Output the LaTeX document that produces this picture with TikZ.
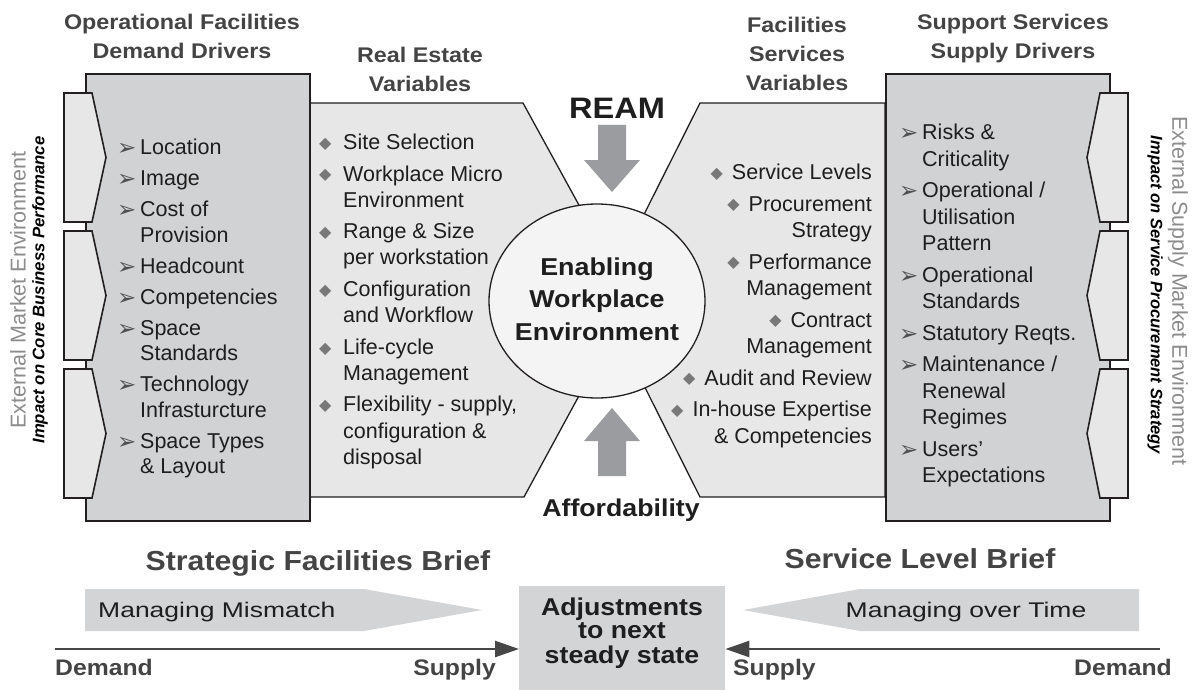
\documentclass[tikz,border=0pt]{standalone}
\usepackage{fontspec}
\setmainfont{Liberation Sans}
\newfontfamily\wf{Liberation Sans}[FakeStretch=1.1]
\newfontfamily\wwf{Liberation Sans}[FakeStretch=1.25]
\newfontfamily\dv{DejaVu Sans}
\usetikzlibrary{shapes.geometric,arrows.meta}
\definecolor{boxg}{RGB}{209,210,212}
\definecolor{panelg}{RGB}{231,231,232}
\definecolor{tabg}{RGB}{231,231,232}
\definecolor{circg}{RGB}{244,244,244}
\definecolor{fatg}{RGB}{155,156,160}
\definecolor{hdr}{RGB}{68,68,68}
\definecolor{txt}{RGB}{30,30,30}
\definecolor{sidegray}{RGB}{140,140,140}
\definecolor{bulg}{RGB}{80,80,80}
\definecolor{diag}{RGB}{120,120,120}
\definecolor{linec}{RGB}{35,31,32}
\definecolor{botline}{RGB}{70,70,70}
\definecolor{mmg}{RGB}{211,212,214}
\newcommand{\arb}{\makebox[23pt][l]{\raisebox{-1pt}{\dv\fontsize{23}{23}\selectfont\color{bulg}➢}}}
\newcommand{\dmb}{\makebox[24pt][l]{\raisebox{1.2pt}{\dv\fontsize{16}{16}\selectfont\color{diag}◆}}}
\newcommand{\dmr}{\raisebox{1.2pt}{\dv\fontsize{16}{16}\selectfont\color{diag}◆}\hspace{9pt}}
\newcommand{\tl}[2]{\begin{tabular}[t]{@{}#1@{}}#2\end{tabular}}
\tikzset{
  boxst/.style={fill=boxg, draw=linec, line width=1.6pt},
  panelst/.style={fill=panelg, draw=linec, line width=1.3pt},
  tabst/.style={fill=tabg, draw=linec, line width=1.6pt},
  hdrst/.style={font=\wf\bfseries\fontsize{21.2}{29}\selectfont, text=hdr, inner sep=0pt, anchor=base},
  itemst/.style={text=txt, inner sep=0pt, anchor=base west},
  fatarrow/.style={fill=fatg, draw=none},
  mmst/.style={fill=mmg, draw=none},
  botarrow/.style={draw=botline, line width=2.5pt, -{Triangle[length=24pt,width=16pt]}},
  dsst/.style={font=\wf\bfseries\fontsize{22.5}{25}\selectfont, text=hdr, inner sep=0pt},
}
\begin{document}
\begin{tikzpicture}[x=1pt,y=-1pt]
\useasboundingbox (0,0) rectangle (1196,690);
\fill[white] (0,0) rectangle (1196,690);

% headers
\node[hdrst] (h1) at (182,29.5) {\tl{c}{Operational Facilities\\Demand Drivers}};
\node[hdrst] (h2) at (420,62.5) {\tl{c}{Real Estate\\Variables}};
\node[hdrst] (h3) at (797,32.5) {\tl{c}{Facilities\\Services\\Variables}};
\node[hdrst] (h4) at (1013,29.5) {\tl{c}{Support Services\\Supply Drivers}};

% light panels
\draw[panelst] (309,103) -- (523,103) -- (631,300) -- (524,497) -- (309,497) -- cycle;
\draw[panelst] (885,103) -- (700,103) -- (601,300) -- (700,497) -- (885,497) -- cycle;

% dark boxes
\node[boxst, minimum width=224pt, minimum height=447pt, inner sep=0pt, anchor=north west] (lbox) at (85,73) {};
\node[boxst, minimum width=224pt, minimum height=447pt, inner sep=0pt, anchor=north west] (rbox) at (885,73) {};

% tabs
\foreach \t in {93,231,369}{
  \draw[tabst] (64,\t) -- (92,\t) -- (106,\t+64.5) -- (92,\t+129) -- (64,\t+129) -- cycle;
  \draw[tabst] (1128,\t) -- (1100,\t) -- (1087,\t+64.5) -- (1100,\t+129) -- (1128,\t+129) -- cycle;
}

% side texts
\node[rotate=90, font=\fontsize{21.5}{25}\selectfont, text=sidegray, inner sep=0pt] (extl) at (18,290) {External Market Environment};
\node[rotate=90, font=\bfseries\itshape\fontsize{16.7}{20}\selectfont, text=black, inner sep=0pt] (impl) at (40,290) {Impact on Core Business Performance};
\node[rotate=-90, font=\fontsize{21.5}{25}\selectfont, text=sidegray, inner sep=0pt] (extr) at (1178,291) {External Supply Market Environment};
\node[rotate=-90, font=\bfseries\itshape\fontsize{16.5}{20}\selectfont, text=black, inner sep=0pt] (impr) at (1155,295) {Impact on Service Procurement Strategy};

% left box items
\node[itemst, font=\fontsize{21.5}{25.5}\selectfont] (litems) at (117,154.7) {\tl{l@{}l}{%
\arb & Location\\[5.5pt]
\arb & Image\\[5.5pt]
\arb & Cost of\\
 & Provision\\[5.5pt]
\arb & Headcount\\[5.5pt]
\arb & Competencies\\[5.5pt]
\arb & Space\\
 & Standards\\[5.5pt]
\arb & Technology\\
 & Infrasturcture\\[5.5pt]
\arb & Space Types\\
 & \& Layout}};

% real estate items
\node[itemst, font=\fontsize{21.5}{26}\selectfont] (reitems) at (319,149.5) {\tl{l@{}l}{%
\dmb & Site Selection\\[5.7pt]
\dmb & Workplace Micro\\
 & Environment\\[5.7pt]
\dmb & Range \& Size\\
 & per workstation\\[5.7pt]
\dmb & Configuration\\
 & and Workflow\\[5.7pt]
\dmb & Life-cycle\\
 & Management\\[5.7pt]
\dmb & Flexibility - supply,\\
 & configuration \&\\
 & disposal}};

% facilities services items
\node[text=txt, inner sep=0pt, anchor=base east, font=\fontsize{21.5}{26.5}\selectfont] (fsitems) at (872,179.5) {\tl{r}{%
\dmr Service Levels\\[5pt]
\dmr Procurement\\
Strategy\\[5pt]
\dmr Performance\\
Management\\[5pt]
\dmr Contract\\
Management\\[5pt]
\dmr Audit and Review\\[5pt]
\dmr In-house Expertise\\
\& Competencies}};

% right box items
\node[itemst, font=\fontsize{21.5}{26.5}\selectfont] (ritems) at (899,139.7) {\tl{l@{}l}{%
\arb & Risks \&\\
 & Criticality\\[5pt]
\arb & Operational /\\
 & Utilisation\\
 & Pattern\\[5pt]
\arb & Operational\\
 & Standards\\[5pt]
\arb & Statutory Reqts.\\[5pt]
\arb & Maintenance /\\
 & Renewal\\
 & Regimes\\[5pt]
\arb & Users’\\
 & Expectations}};

% centre ellipse
\node[ellipse, fill=circg, draw=linec, line width=1.3pt, minimum width=216pt, minimum height=194pt, inner sep=0pt] (ewe) at (597,301) {};
\node[font=\wf\bfseries\fontsize{24.4}{32.5}\selectfont, text=txt, inner sep=0pt] (ewetext) at (ewe.center) {\begin{tabular}{@{}c@{}}Enabling\\Workplace\\Environment\end{tabular}};

% REAM and affordability
\node[font=\wf\bfseries\fontsize{29.6}{32}\selectfont, text=txt, inner sep=0pt, anchor=base] (ream) at (617,118.6) {REAM};
\draw[fatarrow] (598,125) -- (626,125) -- (626,160) -- (640,160) -- (612,192) -- (584,160) -- (598,160) -- cycle;
\draw[fatarrow] (612,408) -- (640,441) -- (626,441) -- (626,476) -- (598,476) -- (598,441) -- (584,441) -- cycle;
\node[font=\wf\bfseries\fontsize{24.3}{28}\selectfont, text=txt, inner sep=0pt, anchor=base] (afford) at (621,516.7) {Affordability};

% bottom
\node[font=\wf\bfseries\fontsize{27.5}{30}\selectfont, text=hdr, inner sep=0pt, anchor=base] (sfb) at (318,570) {Strategic Facilities Brief};
\node[font=\wf\bfseries\fontsize{27.5}{30}\selectfont, text=hdr, inner sep=0pt, anchor=base] (slb) at (920,568) {Service Level Brief};
\draw[mmst] (85,589) -- (364,589) -- (482,610) -- (364,631) -- (85,631) -- cycle;
\draw[mmst] (1139,589) -- (860,589) -- (743,610) -- (860,631) -- (1139,631) -- cycle;
\node[font=\wwf\fontsize{21.2}{25}\selectfont, text=txt, inner sep=0pt, anchor=base west] (mm) at (98,617.6) {Managing Mismatch};
\node[font=\wwf\fontsize{21.2}{25}\selectfont, text=txt, inner sep=0pt, anchor=base] (mot) at (966,617.6) {Managing over Time};

\node[fill=mmg, minimum width=206pt, minimum height=104pt, inner sep=0pt, anchor=north west] (adj) at (519,586) {};
\node[font=\wf\bfseries\fontsize{24.3}{23}\selectfont, text=txt, inner sep=0pt] (adjtext) at (622,634) {\begin{tabular}{@{}c@{}}Adjustments\\to next\\steady state\end{tabular}};

\coordinate (dl) at (55,649);
\coordinate (dr) at (1160,649);
\draw[botarrow] (dl) -- (dl -| adj.west);
\draw[botarrow] (dr) -- (dr -| adj.east);

\node[dsst, anchor=base west] (dem1) at (55,675) {Demand};
\node[dsst, anchor=base east] (sup1) at (496,675) {Supply};
\node[dsst, anchor=base west] (sup2) at (733,675) {Supply};
\node[dsst, anchor=base east] (dem2) at (1172,675) {Demand};
\end{tikzpicture}
\end{document}
